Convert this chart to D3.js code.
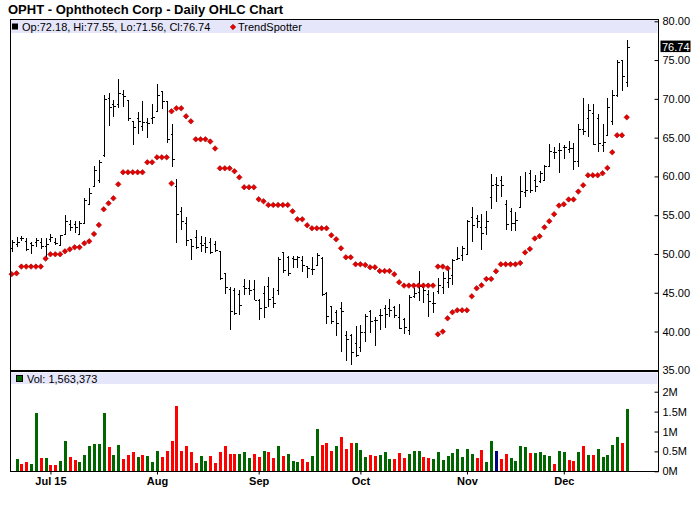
<!DOCTYPE html>
<html>
<head>
<meta charset="utf-8">
<script src="https://cdn.jsdelivr.net/npm/d3@7"></script>
<style>
    body { margin: 0; background: #fff; }
    svg { display: block; font-family: "Liberation Sans", Arial, sans-serif; }
</style>
</head>
<body>
<script>
(function () {
    "use strict";

    // daily bars, Jun 19 - Dec 18 (one entry per trading day)
    var open = [50.8,51.3,52.0,51.7,51.4,51.5,51.6,51.0,51.9,51.6,
        51.2,52.6,53.8,53.8,52.6,54.0,56.5,58.8,59.5,62.7,
        70.1,69.3,69.4,70.6,69.9,67.1,67.5,66.5,67.0,67.5,
        68.4,71.0,69.7,65.5,58.7,55.5,54.0,51.9,52.2,51.4,
        51.4,51.5,51.3,50.4,47.5,45.5,45.3,44.8,45.9,45.6,
        45.5,44.1,45.0,45.9,44.4,45.4,50.3,49.6,49.5,49.4,
        49.2,48.4,48.0,48.6,49.5,45.0,43.3,42.5,43.0,39.5,
        39.5,38.5,38.0,40.0,42.6,41.5,42.1,43.0,43.0,43.1,
        41.9,41.6,40.2,44.6,45.1,45.8,44.9,43.7,45.2,45.7,
        46.4,47.3,49.3,49.9,50.0,54.8,54.7,53.5,53.5,57.3,
        59.0,59.5,56.4,55.5,54.0,56.1,58.0,60.4,59.6,59.4,
        59.6,61.4,63.2,63.4,63.8,63.5,63.7,62.0,66.1,67.5,
        68.2,67.5,64.0,65.4,67.1,70.5,75.0,72.18];
    var high = [51.8,52.2,52.3,52.0,51.6,52.1,52.1,52.1,52.6,52.1,
        52.4,55.0,54.4,54.3,54.2,57.2,58.5,61.3,62.1,70.5,
        70.7,69.9,72.6,71.1,69.9,67.1,68.3,69.7,67.5,69.4,
        71.9,71.0,69.7,66.8,59.7,56.1,54.8,51.9,53.1,52.3,
        52.2,52.0,51.7,50.4,47.5,45.8,45.6,45.4,46.8,46.6,
        46.6,44.2,45.9,47.0,45.6,49.6,50.3,49.7,49.7,49.7,
        49.7,48.5,49.6,50.1,49.6,45.1,43.3,42.8,43.8,40.1,
        39.7,40.7,40.8,42.3,42.8,41.9,42.9,43.4,44.2,43.3,
        43.6,41.7,44.7,45.6,47.8,46.2,45.4,45.1,46.9,47.7,
        47.9,49.4,50.9,51.0,54.4,56.1,55.0,55.2,55.5,60.3,
        59.9,60.0,57.0,55.9,55.4,60.1,60.6,60.8,60.2,60.7,
        61.5,64.2,63.8,64.3,64.0,64.6,64.3,66.8,70.1,69.3,
        69.4,68.1,66.8,70.1,71.1,75.0,75.0,77.55];
    var low = [50.2,50.9,51.7,50.4,50.0,50.9,50.7,49.5,51.6,51.2,
        51.1,52.6,52.9,52.7,52.4,53.9,56.3,58.8,59.1,62.5,
        66.5,67.7,68.8,69.0,67.1,64.0,65.5,65.8,65.0,66.8,
        68.3,68.7,64.3,61.2,51.4,53.1,51.0,49.2,50.7,50.2,
        50.1,50.0,50.2,46.7,44.8,40.2,42.1,42.1,44.7,44.7,
        44.1,41.5,41.8,43.1,43.0,44.7,47.5,47.1,48.2,48.2,
        47.7,46.9,47.3,48.4,44.6,41.0,41.0,39.4,37.4,36.2,
        35.7,36.7,37.4,38.7,39.8,38.1,40.2,40.5,41.9,41.7,
        40.3,39.7,39.6,44.3,43.9,43.7,41.9,42.4,44.9,44.9,
        45.6,46.0,49.2,49.1,49.9,51.6,53.3,50.5,52.5,55.8,
        56.7,57.4,53.1,53.0,53.0,56.0,57.3,57.8,58.0,59.2,
        59.5,61.4,62.3,60.4,62.3,63.0,60.8,61.2,65.3,65.1,
        64.1,63.2,63.2,65.3,66.6,70.3,71.0,71.56];
    var close = [51.5,51.6,52.0,50.6,51.2,51.8,51.0,51.3,52.2,51.4,
        52.4,54.3,53.5,53.5,54.0,56.9,57.8,60.8,61.9,70.0,
        69.0,69.1,70.7,70.4,67.5,66.4,67.1,67.0,66.9,67.7,
        70.5,69.7,64.8,62.2,55.2,54.3,51.8,51.0,50.9,51.2,
        50.9,50.2,50.5,46.9,45.7,42.7,42.4,43.4,45.6,45.3,
        44.1,43.0,43.1,44.2,43.7,49.4,47.9,47.5,49.4,49.6,
        48.6,48.2,48.0,49.9,44.9,42.0,41.3,41.1,42.6,39.1,
        37.3,37.0,40.0,42.0,41.3,41.5,42.1,42.3,42.8,42.1,
        40.4,40.6,44.5,45.0,45.9,45.4,43.9,43.7,46.0,46.9,
        46.9,49.2,49.5,50.8,54.3,53.7,54.2,52.7,54.2,58.9,
        58.9,58.9,53.9,54.0,54.4,58.1,58.3,58.3,58.8,60.4,
        61.3,63.3,63.1,63.4,63.8,63.6,62.0,66.1,65.9,68.6,
        64.2,64.3,64.5,69.0,70.5,74.8,72.9,76.74];

    // TrendSpotter stops: runs below price (up trend) and above price (down trend)
    var trendUpEarly = [47.4,47.5,48.37,48.37,48.37,48.37,48.37,49.4,49.96,49.96,
        49.96,50.34,50.6,50.86,50.86,51.37,51.63,52.58,53.74,55.76,
        56.53,57.18,58.98,60.53,60.53,60.53,60.53,60.53,61.82,61.82,
        62.46,62.46,62.46,59.1];
    var trendUpLateStart = 88;
    var trendUpLate = [39.64,39.99,41.7,42.48,42.74,42.74,42.74,44.54,45.57,45.96,
        46.78,46.78,47.77,48.67,48.67,48.67,48.67,48.84,50.2,50.65,
        52.0,52.28,53.44,54.23,55.13,56.24,56.4,57.03,57.03,58.04,
        58.86,60.14,60.14,60.14,60.4,61.09,63.11,65.3,65.3,67.62];
    var trendDownStart = 33;
    var trendDown = [68.39,68.78,68.78,67.75,67.1,64.78,64.78,64.78,64.5,63.6,
        61.04,61.04,61.04,60.66,59.88,58.6,58.6,58.6,57.05,56.79,
        56.32,56.32,56.32,56.32,56.32,55.5,54.47,54.47,53.7,53.31,
        53.31,53.31,53.31,52.41,51.89,50.73,49.57,49.57,48.67,48.67,
        48.58,48.28,48.28,47.8,47.8,47.8,47.38,46.35,45.92,45.92,
        45.92,45.92,45.92,45.92,45.92,48.37,48.37,48.15];

    // volume in millions; u = up day, d = down day, n = unchanged
    var volume = [null,0.30,0.18,0.23,0.18,1.47,0.33,0.33,0.15,0.15,
        0.25,0.75,0.35,0.28,0.23,0.40,0.63,0.68,0.68,1.47,
        0.60,0.40,0.65,0.30,0.40,0.48,0.35,0.40,0.38,0.23,
        0.50,0.35,0.50,0.75,1.64,0.50,0.63,0.48,0.20,0.38,
        0.25,0.38,0.20,0.48,0.63,0.43,0.43,0.43,0.48,0.33,
        0.43,0.35,0.50,0.48,0.33,0.63,0.38,0.43,0.25,0.23,
        0.30,0.23,0.38,1.06,0.65,0.70,0.50,0.63,0.85,0.55,
        0.70,0.70,0.53,0.35,0.40,0.38,0.40,0.48,0.30,0.30,
        0.45,0.33,0.43,0.50,0.50,0.35,0.33,0.30,0.48,0.28,
        0.38,0.45,0.55,0.35,0.55,0.43,0.33,0.53,0.23,0.75,
        0.50,0.30,0.43,0.33,0.25,0.63,0.60,0.45,0.45,0.48,
        0.40,0.38,0.18,0.50,0.48,0.28,0.25,0.48,0.63,0.40,
        0.40,0.55,0.35,0.40,0.65,0.85,0.70,1.563373];
    var volDir = ("-" + "udduududdu" + "udduuuuuud" + "uuddduduuu" + "dddddddduu" +
        "dddddduuud" + "dudduduuud" + "duuddduddd" + "uuudduuudd" + "duuudduuuu" +
        "uuuuudduun" + "dduuuuduuu" + "uduuddudud" + "uuuuudu").split("");
    var lastVolume = 1563373;

    var monthTicks = [8, 30, 51, 72, 94, 114];
    var monthLabels = ["Jul 15", "Aug", "Sep", "Oct", "Nov", "Dec"];
    var priceTicks = [35, 40, 45, 50, 55, 60, 65, 70, 75, 80];
    var volTicks = [0, 0.5, 1, 1.5, 2];

    var colors = {u: "#006600", d: "#ff0000", n: "#000080"};
    var band = "#e6e6fa";

    var svg = d3.select("body").append("svg")
        .attr("width", 700)
        .attr("height", 512);

    var left = 10.5, right = 658.5, top = 19.5, split = 371, bottom = 471.5;

    var x = d3.scaleLinear().domain([-0.35, 133.45]).range([10, 658]);
    var y = d3.scaleLinear().domain([35, 80]).range([370.3, 21.3]);
    var yv = d3.scaleLinear().domain([0, 2]).range([471.3, 391.7]);

    // title
    svg.append("text")
        .attr("x", 8)
        .attr("y", 14)
        .attr("font-size", 13)
        .attr("font-weight", "bold")
        .text("OPHT - Ophthotech Corp - Daily OHLC Chart");

    // legend bands
    svg.append("rect").attr("x", left).attr("y", 20)
        .attr("width", right - left - 1).attr("height", 13).attr("fill", band);
    svg.append("rect").attr("x", left).attr("y", 372.5)
        .attr("width", right - left - 1).attr("height", 11.5).attr("fill", band);

    var last = open.length - 1;
    svg.append("rect").attr("x", 12).attr("y", 23.5)
        .attr("width", 6).attr("height", 6).attr("fill", "#000");
    svg.append("text")
        .attr("x", 22).attr("y", 30.5).attr("font-size", 11)
        .text("Op:" + open[last].toFixed(2) + ", Hi:" + high[last].toFixed(2) +
            ", Lo:" + low[last].toFixed(2) + ", Cl:" + close[last].toFixed(2));

    var marker = d3.symbol().type(d3.symbolSquare).size(15);
    function drawMarker(sel, cx, cy) {
        sel.append("path")
            .attr("d", marker)
            .attr("transform", "translate(" + cx + "," + cy + ") rotate(45)")
            .attr("fill", "#e60000")
            .attr("stroke", "#a00000")
            .attr("stroke-width", 0.6);
    }
    drawMarker(svg, 233, 27);
    svg.append("text")
        .attr("x", 238).attr("y", 30.5).attr("font-size", 11)
        .text("TrendSpotter");

    svg.append("rect").attr("x", 16.5).attr("y", 375.5)
        .attr("width", 6).attr("height", 6)
        .attr("fill", colors.u).attr("stroke", "#000").attr("stroke-width", 1);
    svg.append("text")
        .attr("x", 27).attr("y", 382.5).attr("font-size", 11)
        .text("Vol: " + d3.format(",")(lastVolume));

    // OHLC bars
    var bars = svg.append("g")
        .attr("stroke", "#000")
        .attr("stroke-width", 1)
        .attr("fill", "none")
        .attr("shape-rendering", "crispEdges");
    open.forEach(function (o, i) {
        var xi = Math.round(x(i)) + 0.5;
        bars.append("path").attr("d",
            "M" + xi + "," + y(high[i]) + "V" + y(low[i]) +
            "M" + (xi - 2) + "," + Math.round(y(o)) + "H" + xi +
            "M" + xi + "," + Math.round(y(close[i])) + "H" + (xi + 2));
    });

    // TrendSpotter dots
    var dots = svg.append("g");
    trendUpEarly.forEach(function (v, i) { drawMarker(dots, x(i), y(v)); });
    trendUpLate.forEach(function (v, i) { drawMarker(dots, x(i + trendUpLateStart), y(v)); });
    trendDown.forEach(function (v, i) { drawMarker(dots, x(i + trendDownStart), y(v)); });

    // volume bars
    svg.append("g")
        .attr("shape-rendering", "crispEdges")
        .selectAll("rect")
        .data(volume.map(function (v, i) { return {i: i, v: v, dir: volDir[i]}; })
            .filter(function (d) { return d.v != null; }))
        .enter().append("rect")
        .attr("x", function (d) { return Math.round(x(d.i)) - 1; })
        .attr("y", function (d) { return yv(d.v); })
        .attr("width", 3)
        .attr("height", function (d) { return yv(0) - yv(d.v); })
        .attr("fill", function (d) { return colors[d.dir]; });

    // axes
    function styleAxis(g, size, weight) {
        g.attr("font-family", null).attr("font-size", size);
        if (weight) {
            g.attr("font-weight", weight);
        }
        g.select(".domain").remove();
        g.selectAll("text").attr("fill", "#000");
    }

    svg.append("g")
        .attr("transform", "translate(" + right + ",0)")
        .call(d3.axisRight(y).tickValues(priceTicks).tickSize(-4).tickPadding(4)
            .tickFormat(d3.format(".2f")))
        .call(styleAxis, 11);

    svg.append("g")
        .attr("transform", "translate(" + right + ",0)")
        .call(d3.axisRight(yv).tickValues(volTicks).tickSize(-4).tickPadding(4)
            .tickFormat(function (d) { return d + "M"; }))
        .call(styleAxis, 11);

    svg.append("g")
        .attr("transform", "translate(0," + bottom + ")")
        .call(d3.axisBottom(x).tickValues(monthTicks).tickSize(3).tickPadding(3)
            .tickFormat(function (d, i) { return monthLabels[i]; }))
        .call(styleAxis, 11, "bold");

    // frame
    var frame = svg.append("g")
        .attr("stroke", "#000")
        .attr("shape-rendering", "crispEdges");
    frame.append("path")
        .attr("d", "M" + left + "," + top + "V" + bottom + "H" + right + "V" + top + "Z")
        .attr("fill", "none")
        .attr("stroke-width", 1);
    frame.append("line")
        .attr("x1", left).attr("x2", right)
        .attr("y1", split).attr("y2", split)
        .attr("stroke-width", 2);

    // last close tag
    var yl = y(close[last]);
    svg.append("rect")
        .attr("x", right + 2).attr("y", yl - 6)
        .attr("width", 30).attr("height", 11.5)
        .attr("fill", "#000");
    svg.append("text")
        .attr("x", right + 3.5).attr("y", yl + 4)
        .attr("font-size", 11)
        .attr("fill", "#fff")
        .text(close[last].toFixed(2));
})();
</script>
</body>
</html>
